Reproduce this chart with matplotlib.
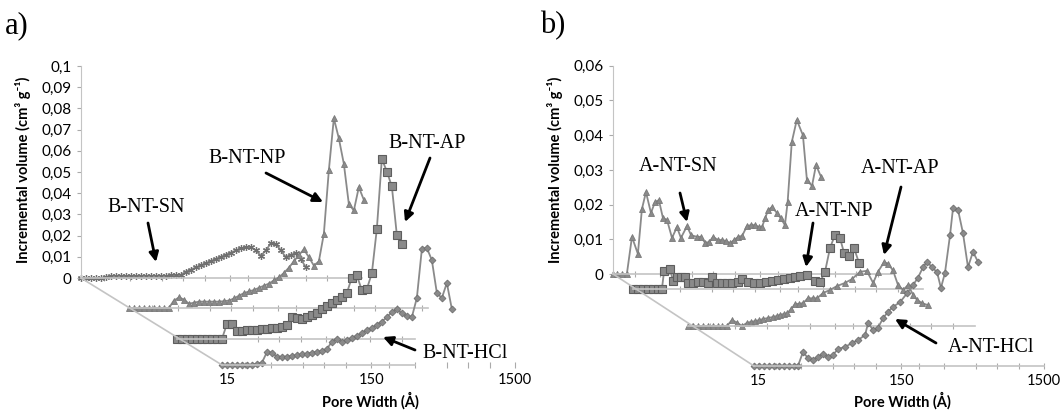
import numpy as np
import matplotlib
matplotlib.use('Agg')
import matplotlib.pyplot as plt
from matplotlib.lines import Line2D
from matplotlib.ticker import FixedLocator, LogLocator, NullFormatter, FixedFormatter

W, H = 1063, 412

# ---------------- panel a: B-NT samples (pore width in A, volume in cm3/g)
a_sn_w = [13.8, 14.9, 16.2, 17.5, 19.0, 20.6, 22.3, 24.1, 26.1, 28.3, 30.7, 33.2, 36.0, 39.0, 42.2,
          45.7, 49.5, 53.6, 58.1, 62.9, 68.2, 73.8, 80.0, 86.6, 93.8, 101.6, 110.1, 119.2, 129.2,
          139.9, 151.6, 164.2, 177.8, 192.6, 208.7, 226.0, 244.8, 265.2, 287.3, 311.2, 337.1,
          365.1, 395.5, 428.4, 464.1, 502.7]
a_sn_v = [0, 0, 0, 0, 0, 0.0005, 0.001, 0.001, 0.001, 0.0008, 0.0008, 0.0008, 0.001, 0.001, 0.001,
          0.001, 0.001, 0.001, 0.0012, 0.0012, 0.0015, 0.003, 0.004, 0.005, 0.006, 0.007, 0.008,
          0.009, 0.010, 0.011, 0.012, 0.013, 0.014, 0.0145, 0.0145, 0.013, 0.0105, 0.013, 0.0164,
          0.016, 0.013, 0.0098, 0.011, 0.0116, 0.009, 0.005]

a_np_w = [13.8, 14.9, 16.2, 17.5, 19.0, 20.6, 22.3, 24.1, 26.1, 28.3, 30.7, 33.2, 36.0, 39.0, 42.2,
          45.7, 49.5, 53.6, 58.1, 62.9, 68.2, 73.8, 80.0, 86.6, 93.8, 101.6, 110.1, 119.2, 129.2,
          139.9, 151.6, 164.2, 177.8, 192.6, 208.7, 226.0, 244.8, 265.2, 287.3, 311.2, 337.1,
          365.1, 395.5, 428.4, 464.1, 502.7, 544.5, 589.8]
a_np_v = [0, 0, 0, 0, 0, 0, 0, 0, 0, 0.0035, 0.005, 0.004, 0.002, 0.0025, 0.003, 0.003, 0.003,
          0.003, 0.003, 0.0032, 0.0035, 0.0045, 0.0058, 0.007, 0.0078, 0.0085, 0.0095, 0.0105,
          0.0115, 0.013, 0.0145, 0.0165, 0.019, 0.022, 0.025, 0.0276, 0.024, 0.02, 0.022, 0.035,
          0.065, 0.0895, 0.08, 0.068, 0.049, 0.046, 0.057, 0.051]

a_ap_w = [13.8, 14.9, 16.2, 17.5, 19.0, 20.6, 22.3, 24.1, 26.1, 28.3, 30.7, 33.2, 36.0, 39.0, 42.2,
          45.7, 49.5, 53.6, 58.1, 62.9, 68.2, 73.8, 80.0, 86.6, 93.8, 101.6, 110.1, 119.2, 129.2,
          139.9, 151.6, 164.2, 177.8, 192.6, 208.7, 226.0, 244.8, 265.2, 287.3, 311.2, 337.1,
          365.1, 395.5, 428.4, 464.1, 502.7]
a_ap_v = [0, 0, 0, 0, 0, 0, 0, 0, 0, 0, 0.0072, 0.0072, 0.0038, 0.004, 0.0042, 0.0042, 0.0044,
          0.0046, 0.0048, 0.005, 0.0052, 0.0058, 0.0066, 0.0104, 0.0098, 0.0094, 0.0104, 0.0112,
          0.0125, 0.014, 0.0158, 0.017, 0.0185, 0.02, 0.0217, 0.029, 0.030, 0.023, 0.0236, 0.031,
          0.052, 0.085, 0.079, 0.072, 0.049, 0.045]

a_hcl_w = [13.8, 14.9, 16.2, 17.5, 19.0, 20.6, 22.3, 24.1, 26.1, 28.3, 30.7, 33.2, 36.0, 39.0, 42.2,
           45.7, 49.5, 53.6, 58.1, 62.9, 68.2, 73.8, 80.0, 86.6, 93.8, 101.6, 110.1, 119.2, 129.2,
           139.9, 151.6, 164.2, 177.8, 192.6, 208.7, 226.0, 244.8, 265.2, 287.3, 311.2, 337.1,
           365.1, 395.5, 428.4, 464.1, 502.7, 544.5]
a_hcl_v = [0, 0, 0, 0, 0, 0, 0, 0.0005, 0.001, 0.0061, 0.0057, 0.004, 0.0038, 0.004, 0.0042,
           0.0046, 0.005, 0.0054, 0.0058, 0.0062, 0.0066, 0.0075, 0.011, 0.0123, 0.011, 0.0118,
           0.0128, 0.0138, 0.015, 0.0165, 0.0175, 0.019, 0.0205, 0.0225, 0.025, 0.0262, 0.0245,
           0.023, 0.0226, 0.0316, 0.0547, 0.0552, 0.0495, 0.034, 0.0316, 0.0387, 0.0264]

# ---------------- panel b: A-NT samples
b_sn_w = [14.0, 14.9, 16.2, 17.5, 19.0, 20.9, 22.3, 23.8, 25.8, 27.5, 29.3, 31.3, 33.4, 36.2, 39.2,
          41.8, 46.1, 49.2, 54.2, 57.8, 61.6, 65.8, 70.2, 76.0, 81.1, 86.5, 92.3, 98.4, 105, 112,
          121, 129, 138, 147, 154, 162, 170, 181, 196, 209, 223, 233, 249, 270, 298, 318, 345,
          368, 399]
b_sn_v = [0, 0, 0, 0, 0.0107, 0.0058, 0.0187, 0.0236, 0.0176, 0.0207, 0.0213, 0.0161, 0.0156,
          0.0104, 0.0135, 0.0104, 0.0138, 0.0112, 0.0107, 0.0107, 0.009, 0.0092, 0.0107, 0.0098,
          0.0098, 0.0095, 0.0089, 0.0098, 0.0107, 0.011, 0.0138, 0.0141, 0.0141, 0.0135, 0.0135,
          0.016, 0.0184, 0.0193, 0.0176, 0.016, 0.0141, 0.0207, 0.038, 0.0444, 0.040, 0.027,
          0.0254, 0.0314, 0.028]

b_np_w = [14.0, 15.2, 16.5, 17.8, 19.3, 20.9, 22.3, 23.1, 25.4, 26.7, 28.4, 30.3, 32.3, 33.9, 36.8,
          39.8, 43.2, 46.8, 49.9, 54.2, 58.7, 63.6, 69.0, 76.0, 81.1, 89.3, 98.4, 108, 119, 131,
          145, 159, 175, 189, 205, 231, 262, 284, 308, 334, 362, 392, 419, 454, 492, 533]
b_np_v = [0, 0, 0, 0, 0, 0, 0, 0.0052, 0.0058, 0.0023, 0.0035, 0.0035, 0.0035, 0.0017, 0.0017,
          0.002, 0.002, 0.0017, 0.0035, 0.0017, 0.0017, 0.0018, 0.0018, 0.002, 0.0029, 0.002,
          0.0018, 0.0018, 0.002, 0.0023, 0.0026, 0.003, 0.0033, 0.0036, 0.0038, 0.004, 0.0023,
          0.002, 0.0049, 0.0118, 0.0156, 0.0147, 0.0104, 0.0095, 0.0118, 0.0075]

b_ap_w = [14.0, 15.2, 16.5, 17.8, 19.3, 20.9, 22.7, 24.2, 26.2, 28.4, 30.8, 33.4, 36.2, 38.6, 41.2,
          43.9, 46.8, 50.7, 55.0, 58.7, 61.6, 65.8, 69.0, 73.5, 78.4, 83.7, 89.3, 96.6, 105, 112,
          123, 138, 154, 175, 196, 223, 249, 276, 298, 329, 350, 380, 412, 447, 484, 525, 560,
          607, 667]
b_ap_v = [0, 0, 0, 0, 0, 0, 0, 0, 0, 0.0017, 0.001, 0, 0.0009, 0.0012, 0.0014, 0.0017, 0.002,
          0.0023, 0.0026, 0.0029, 0.0032, 0.0035, 0.0037, 0.0048, 0.0063, 0.0064, 0.0066, 0.008,
          0.008, 0.008, 0.0095, 0.0104, 0.0115, 0.0124, 0.0135, 0.0156, 0.0159, 0.0124, 0.0156,
          0.0184, 0.018, 0.016, 0.0118, 0.0104, 0.0118, 0.009, 0.0075, 0.0066, 0.006]

b_hcl_w = [14.0, 15.2, 16.5, 17.8, 19.3, 20.9, 22.7, 24.6, 26.7, 28.4, 30.8, 33.4, 36.2, 39.2, 42.5,
           46.1, 49.9, 54.2, 60.6, 67.9, 74.8, 83.7, 87.9, 95.2, 103, 112, 121, 131, 147, 165,
           181, 196, 213, 227, 246, 267, 284, 303, 329, 345, 374, 405, 439, 476, 516]
b_hcl_v = [0, 0, 0, 0, 0, 0, 0, 0, 0, 0, 0.004, 0.0023, 0.0017, 0.0026, 0.0035, 0.0026, 0.0032,
           0.0049, 0.0055, 0.0066, 0.0075, 0.0089, 0.0124, 0.0104, 0.011, 0.0138, 0.0156, 0.017,
           0.0184, 0.021, 0.0233, 0.0254, 0.0285, 0.030, 0.0285, 0.027, 0.0225, 0.0268, 0.0378,
           0.0455, 0.045, 0.0383, 0.0285, 0.0329, 0.030]

a_yticks = [0, 0.01, 0.02, 0.03, 0.04, 0.05, 0.06, 0.07, 0.08, 0.09, 0.1]
a_ylabels = ['0', '0,01', '0,02', '0,03', '0,04', '0,05', '0,06', '0,07', '0,08', '0,09', '0,1']
b_yticks = [0, 0.01, 0.02, 0.03, 0.04, 0.05, 0.06]
b_ylabels = ['0', '0,01', '0,02', '0,03', '0,04', '0,05', '0,06']
x_ticks = [15, 150, 1500]
x_labels = ['15', '150', '1500']

LINE = '#8a8a8a'
FLOOR = '#c4c4c4'
SANS = ['Lato', 'DejaVu Sans']
SERIF = ['Liberation Serif', 'DejaVu Serif']

fig = plt.figure(figsize=(W / 100, H / 100), dpi=100)


def px(x, y):
    return x / W, 1 - y / H


def depth_axes(x0, ybase, decade, w0, w1, ymax, ppu):
    width = decade * np.log10(w1 / w0)
    ax = fig.add_axes([x0 / W, (H - ybase) / H, width / W, ymax * ppu / H])
    ax.set_xscale('log')
    ax.set_xlim(w0, w1)
    ax.set_ylim(0, ymax)
    ax.patch.set_visible(False)
    for s in ['top', 'right', 'left']:
        ax.spines[s].set_visible(False)
    ax.spines['bottom'].set_color(FLOOR)
    ax.spines['bottom'].set_linewidth(1.2)
    ax.xaxis.set_major_locator(FixedLocator([]))
    ax.xaxis.set_minor_locator(LogLocator(base=10, subs=(1.0, 1.5, 2.0, 3.0, 5.0, 7.0), numticks=60))
    ax.xaxis.set_minor_formatter(NullFormatter())
    ax.tick_params(axis='x', which='minor', direction='inout', length=4, width=0.8, color='#aaaaaa')
    ax.set_yticks([])
    return ax


def draw_panel(geom, decade, w0, ends, ymax, ppu, series, styles, yticks, ylabels, bound=None):
    axes = []
    for (x0, yb), w1, (w, v), st in zip(geom, ends, series, styles):
        ax = depth_axes(x0, yb, decade, w0, w1, ymax, ppu)
        ax.plot(w, v, color=LINE, lw=1.3, clip_on=False, **st)
        axes.append(ax)
    back, front = axes[0], axes[-1]
    back.spines['left'].set_visible(True)
    back.spines['left'].set_color(FLOOR)
    back.set_yticks(yticks)
    back.set_yticklabels(ylabels, fontsize=11, family=SANS)
    back.tick_params(axis='y', length=3, color='#aaaaaa', pad=4)
    front.xaxis.set_major_locator(FixedLocator(x_ticks))
    front.xaxis.set_major_formatter(FixedFormatter(x_labels))
    front.tick_params(axis='x', which='major', direction='inout', length=4, color='#aaaaaa',
                      labelsize=10.5, pad=4)
    for t in front.get_xticklabels():
        t.set_family(SANS)
    if bound is not None:
        front.spines['bottom'].set_bounds(w0, bound)
    # floor diagonal joining the baselines
    p0 = back.get_position()
    p1 = front.get_position()
    fig.add_artist(Line2D([p0.x0, p1.x0], [p0.y0, p1.y0], transform=fig.transFigure,
                          color=FLOOR, lw=1.2))
    return back, front


ast = dict(marker=(6, 2, 0), ms=5, mec='#707070', mew=0.9)
tri = dict(marker='^', ms=4.5, mfc='#8a8a8a', mec='#7a7a7a', mew=0.6)
sq = dict(marker='s', ms=6, mfc='#8a8a8a', mec='#5e5e5e', mew=0.8)
dia = dict(marker='D', ms=3.5, mfc='#8a8a8a', mec='#6e6e6e', mew=0.6)

draw_panel([(81, 278), (129, 308), (177, 339), (222, 365)], 144, 13.8,
           [1234, 1645, 620, 1500], 0.1, 2120,
           [(a_sn_w, a_sn_v), (a_np_w, a_np_v), (a_ap_w, a_ap_v), (a_hcl_w, a_hcl_v)],
           [ast, tri, sq, dia], a_yticks, a_ylabels, bound=302)

draw_panel([(613, 274), (633, 289), (688, 326), (754, 366)], 143, 14.0,
           [1250, 1490, 1420, 1500], 0.06, 3470,
           [(b_sn_w, b_sn_v), (b_np_w, b_np_v), (b_ap_w, b_ap_v), (b_hcl_w, b_hcl_v)],
           [tri, sq, tri, dia], b_yticks, b_ylabels)

# axis titles
for x in (23, 555):
    fig.text(*px(x, 170), 'Incremental volume (cm³ g⁻¹)', rotation=90,
             ha='center', va='center', fontsize=10.5, fontweight='bold', family=SANS)
for x in (370, 902):
    fig.text(*px(x, 401), 'Pore Width (Å)', ha='center', va='center',
             fontsize=10.5, fontweight='bold', family=SANS)

# panel letters
fig.text(*px(5, 26), 'a)', ha='left', va='center', fontsize=22, family=SERIF)
fig.text(*px(540, 26), 'b)', ha='left', va='center', fontsize=22, family=SERIF)

# sample labels with arrows
labels = [
    ('B-NT-SN', (146, 207), (148, 223), (156, 262)),
    ('B-NT-NP', (247, 158), (266, 173), (323, 202)),
    ('B-NT-AP', (427, 143), (430, 158), (405, 222)),
    ('B-NT-HCl', (465, 353), (415, 350), (383, 337)),
    ('A-NT-SN', (678, 167), (680, 193), (687, 222)),
    ('A-NT-NP', (834, 212), (813, 223), (806, 267)),
    ('A-NT-AP', (900, 168), (901, 187), (884, 255)),
    ('A-NT-HCl', (991, 348), (936, 343), (895, 319)),
]
for text, tpos, start, end in labels:
    fig.text(*px(*tpos), text, ha='center', va='center', fontsize=14.5, family=SERIF)
    fig.add_artist(matplotlib.patches.FancyArrowPatch(
        px(*start), px(*end), transform=fig.transFigure, arrowstyle='-|>',
        mutation_scale=14, lw=2, color='black', shrinkA=0, shrinkB=0))

fig.savefig('out.png', dpi=100)
